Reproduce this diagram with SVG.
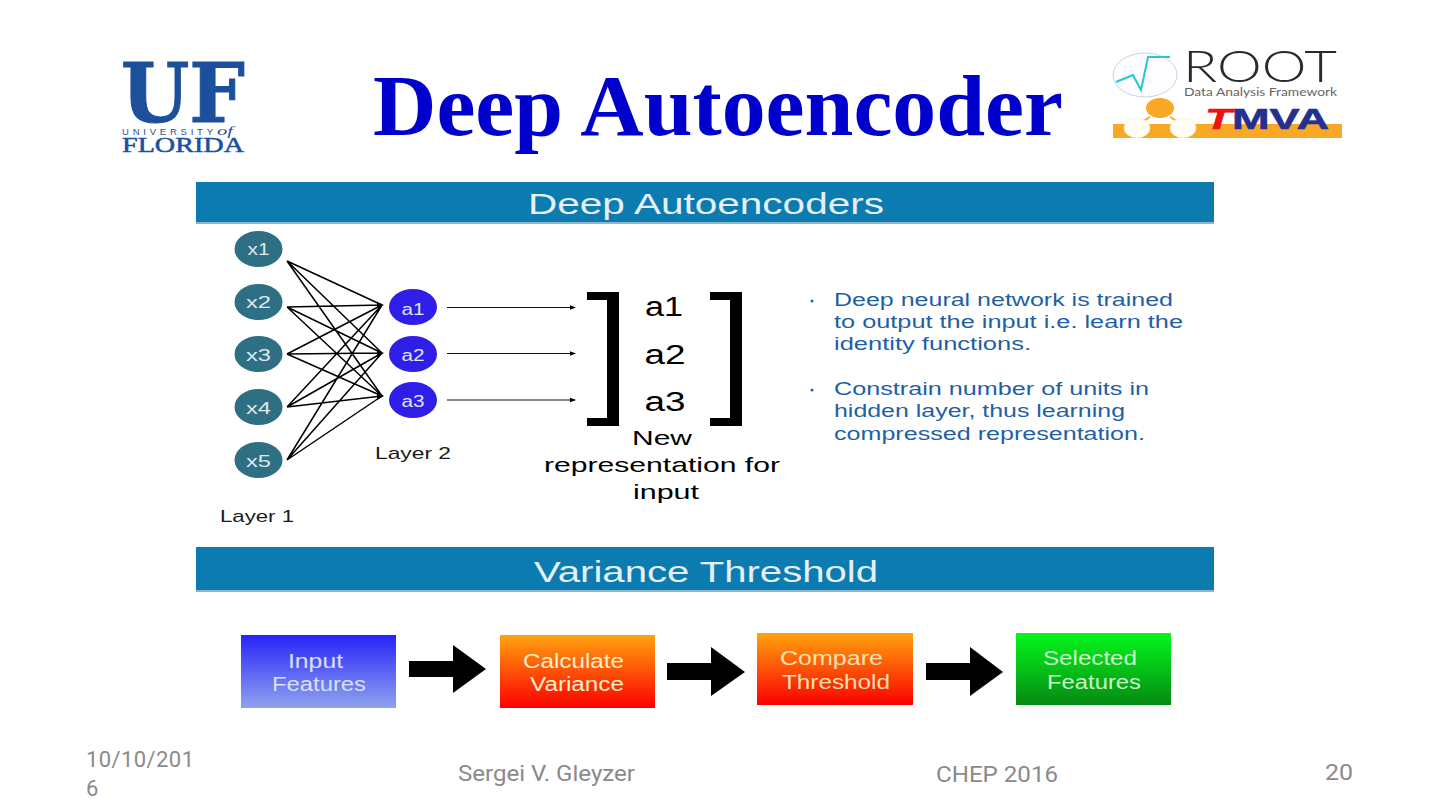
<svg xmlns="http://www.w3.org/2000/svg" width="1440" height="810" viewBox="0 0 1440 810">
<defs>
<linearGradient id="gBlue" x1="0" y1="0" x2="0" y2="1"><stop offset="0" stop-color="#2624f8"/><stop offset="1" stop-color="#8fa3ee"/></linearGradient>
<linearGradient id="gRed" x1="0" y1="0" x2="0" y2="1"><stop offset="0" stop-color="#ffa30f"/><stop offset="1" stop-color="#fb0000"/></linearGradient>
<linearGradient id="gGreen" x1="0" y1="0" x2="0" y2="1"><stop offset="0" stop-color="#05f71c"/><stop offset="1" stop-color="#058a13"/></linearGradient>
<marker id="tip" markerWidth="6" markerHeight="6" refX="5" refY="3" orient="auto" markerUnits="userSpaceOnUse"><path d="M0 0.8L6 3L0 5.2z" fill="#000"/></marker>
</defs>
<style>
text{font-family:"Liberation Sans",Arial,sans-serif}
.serif{font-family:"Liberation Serif",serif}
.banner{fill:#0b7bb0}
.bannerline{fill:#8fb6cf}
.bt{fill:#e4f0f5;font-size:29px}
.nx{fill:#2f6f84}
.na{fill:#2f1ee8}
.nt{fill:#dfe9ee;font-size:16px;text-anchor:middle}
.e{stroke:#000;stroke-width:1.5;fill:none}
.a{stroke:#111;stroke-width:1.2;fill:none;marker-end:url(#tip)}
.k{fill:#000}
.l{fill:#1a1a1a;font-size:17px}
.m{fill:#000;font-size:27px;text-anchor:middle}
.r{fill:#000;font-size:21px;text-anchor:middle}
.p{fill:#1e5fa8;font-size:17.5px}
.bx{font-size:20px}
.f{fill:#8a8a8a;font-family:Roboto,"Liberation Sans",sans-serif;font-size:22px}
</style>

<g id="title"><text class="serif" x="373" y="135" font-weight="700" font-size="87" fill="#0000cc" textLength="690" lengthAdjust="spacingAndGlyphs">Deep Autoencoder</text></g>

<g id="uf-logo" fill="#1c4f9c">
<text x="121" y="122" style="font-family:'DejaVu Serif',serif;font-size:82px;font-weight:700" stroke="#1c4f9c" stroke-width="1" textLength="124" lengthAdjust="spacingAndGlyphs">UF</text>
<text x="122" y="135" style="font-size:9.5px" textLength="91" lengthAdjust="spacing">UNIVERSITY</text>
<text x="217" y="135" class="serif" style="font-size:12px;font-style:italic" textLength="16" lengthAdjust="spacingAndGlyphs">of</text>
<text x="122" y="152" class="serif" style="font-size:21px" stroke="#1c4f9c" stroke-width=".5" textLength="122" lengthAdjust="spacingAndGlyphs">FLORIDA</text>
</g>

<g id="root-tmva-logo">
<ellipse cx="1145" cy="75" rx="32" ry="22" fill="#fdfdff" stroke="#ccd2de" stroke-width="1"/>
<polyline points="1116,82 1133,75 1141,90 1148,57 1170,57" fill="none" stroke="#22c8d8" stroke-width="2"/>
<text x="1183" y="82" style="font-family:Lato,'Liberation Sans',sans-serif;font-size:43px;font-weight:300" fill="#2a2a2a" textLength="154" lengthAdjust="spacingAndGlyphs">ROOT</text>
<text x="1184" y="96" style="font-family:Lato,'Liberation Sans',sans-serif;font-size:11px" fill="#666" textLength="153" lengthAdjust="spacingAndGlyphs">Data Analysis Framework</text>
<rect x="1113" y="124" width="229" height="14" fill="#f9a825"/>
<path d="M1150 117L1137 125M1170 117L1183 125" stroke="#f9a825" stroke-width="2"/>
<ellipse cx="1160" cy="108" rx="14" ry="10" fill="#f9a825"/>
<ellipse cx="1137" cy="128" rx="13" ry="10" fill="#fffdf6" stroke="#f3e6c8" stroke-width=".6"/>
<ellipse cx="1183" cy="128" rx="13" ry="10" fill="#fffdf6" stroke="#f3e6c8" stroke-width=".6"/>
<text x="1205" y="129" style="font-size:29px;font-weight:700;font-style:italic" fill="#ee1111" stroke="#ee1111" stroke-width=".6" textLength="27" lengthAdjust="spacingAndGlyphs">T</text>
<text x="1232" y="129" style="font-size:29px;font-weight:700" fill="#23308f" stroke="#23308f" stroke-width=".6" textLength="97" lengthAdjust="spacingAndGlyphs">MVA</text>
</g>

<g id="banner-deep">
<rect class="banner" x="196" y="182" width="1018" height="40"/>
<rect class="bannerline" x="196" y="222" width="1018" height="2"/>
<text class="bt" x="528" y="214" textLength="356" lengthAdjust="spacingAndGlyphs">Deep Autoencoders</text>
</g>
<g id="banner-variance">
<rect class="banner" x="196" y="547" width="1018" height="43"/>
<rect class="bannerline" x="196" y="590" width="1018" height="2"/>
<text class="bt" x="534" y="582" textLength="344" lengthAdjust="spacingAndGlyphs">Variance Threshold</text>
</g>

<g id="connectors">
<path class="e" d="M287 261L382 305M287 261L382 353M287 261L382 396M287 307L382 305M287 307L382 353M287 307L382 396M287 354L382 305M287 354L382 353M287 354L382 396M287 407L382 305M287 407L382 353M287 407L382 396M287 460L382 305M287 460L382 353M287 460L382 396"/>
<path class="k" d="M377 302L384 305L377 308zM377 350L384 353L377 357zM377 392L384 396L377 400z"/>
<path class="a" d="M447 307.5H575"/>
<path class="a" d="M447 353.5H575"/>
<path class="a" d="M447 400H575"/>
<path class="k" d="M409 661H453V645L486 669L453 693V677H409z"/>
<path class="k" d="M667 663H711V647L745 672L711 696V680H667z"/>
<path class="k" d="M926 663H970V647L1003 672L970 696V680H926z"/>
</g>

<g id="x1"><ellipse class="nx" cx="258.5" cy="249" rx="24" ry="18"/><text class="nt" x="258.5" y="255" textLength="22" lengthAdjust="spacingAndGlyphs">x1</text></g>
<g id="x2"><ellipse class="nx" cx="258.5" cy="302" rx="24" ry="18"/><text class="nt" x="258.5" y="308" textLength="25" lengthAdjust="spacingAndGlyphs">x2</text></g>
<g id="x3"><ellipse class="nx" cx="258.5" cy="354" rx="24" ry="18"/><text class="nt" x="258.5" y="361" textLength="25" lengthAdjust="spacingAndGlyphs">x3</text></g>
<g id="x4"><ellipse class="nx" cx="258.5" cy="407" rx="24" ry="18"/><text class="nt" x="258.5" y="414" textLength="25" lengthAdjust="spacingAndGlyphs">x4</text></g>
<g id="x5"><ellipse class="nx" cx="258.5" cy="460" rx="24" ry="18"/><text class="nt" x="258.5" y="467" textLength="25" lengthAdjust="spacingAndGlyphs">x5</text></g>
<g id="a1"><ellipse class="na" cx="413" cy="307" rx="24" ry="18"/><text class="nt" x="413" y="315" textLength="23" lengthAdjust="spacingAndGlyphs">a1</text></g>
<g id="a2"><ellipse class="na" cx="413" cy="354" rx="24" ry="18"/><text class="nt" x="413" y="361" textLength="23" lengthAdjust="spacingAndGlyphs">a2</text></g>
<g id="a3"><ellipse class="na" cx="413" cy="400" rx="24" ry="18"/><text class="nt" x="413" y="407" textLength="23" lengthAdjust="spacingAndGlyphs">a3</text></g>

<g id="layer-labels">
<text class="l" x="375" y="459" textLength="76" lengthAdjust="spacingAndGlyphs">Layer 2</text>
<text class="l" x="220" y="522" textLength="74" lengthAdjust="spacingAndGlyphs">Layer 1</text>
</g>

<g id="matrix">
<path class="k" d="M587 292H619V426H587V418H607V300H587z"/>
<path class="k" d="M710 292H742V426H710V418H730V300H710z"/>
<text class="m" x="664" y="316" textLength="38" lengthAdjust="spacingAndGlyphs">a1</text>
<text class="m" x="665" y="364" textLength="41" lengthAdjust="spacingAndGlyphs">a2</text>
<text class="m" x="665" y="411" textLength="41" lengthAdjust="spacingAndGlyphs">a3</text>
<text class="r" x="662" y="445" textLength="60" lengthAdjust="spacingAndGlyphs">New</text>
<text class="r" x="662" y="472" textLength="236" lengthAdjust="spacingAndGlyphs">representation for</text>
<text class="r" x="666" y="499" textLength="66" lengthAdjust="spacingAndGlyphs">input</text>
</g>

<g id="bullets">
<circle cx="812" cy="301" r="1.5" fill="#1e5fa8"/>
<circle cx="812" cy="390" r="1.5" fill="#1e5fa8"/>
<text class="p" x="834" y="306" textLength="339" lengthAdjust="spacingAndGlyphs">Deep neural network is trained</text>
<text class="p" x="834" y="328" textLength="349" lengthAdjust="spacingAndGlyphs">to output the input i.e. learn the</text>
<text class="p" x="834" y="350" textLength="197" lengthAdjust="spacingAndGlyphs">identity functions.</text>
<text class="p" x="834" y="395" textLength="315" lengthAdjust="spacingAndGlyphs">Constrain number of units in</text>
<text class="p" x="834" y="417" textLength="291" lengthAdjust="spacingAndGlyphs">hidden layer, thus learning</text>
<text class="p" x="834" y="440" textLength="311" lengthAdjust="spacingAndGlyphs">compressed representation.</text>
</g>

<g id="box-input" fill="#d9e0fb"><rect x="241" y="635" width="155" height="73" fill="url(#gBlue)"/><text class="bx" x="288" y="668" textLength="55" lengthAdjust="spacingAndGlyphs">Input</text><text class="bx" x="272" y="691" textLength="94" lengthAdjust="spacingAndGlyphs">Features</text></g>
<g id="box-calculate" fill="#fdeecb"><rect x="500" y="635" width="155" height="73" fill="url(#gRed)"/><text class="bx" x="523" y="668" textLength="101" lengthAdjust="spacingAndGlyphs">Calculate</text><text class="bx" x="530" y="691" textLength="94" lengthAdjust="spacingAndGlyphs">Variance</text></g>
<g id="box-compare" fill="#fde0b0"><rect x="757" y="633" width="156" height="72" fill="url(#gRed)"/><text class="bx" x="780" y="665" textLength="103" lengthAdjust="spacingAndGlyphs">Compare</text><text class="bx" x="782" y="689" textLength="108" lengthAdjust="spacingAndGlyphs">Threshold</text></g>
<g id="box-selected" fill="#c8f5c8"><rect x="1016" y="633" width="155" height="72" fill="url(#gGreen)"/><text class="bx" x="1043" y="665" textLength="94" lengthAdjust="spacingAndGlyphs">Selected</text><text class="bx" x="1047" y="689" textLength="94" lengthAdjust="spacingAndGlyphs">Features</text></g>

<g id="footer">
<text class="f" x="86" y="767" textLength="108">10/10/201</text>
<text class="f" x="86" y="796">6</text>
<text class="f" x="458" y="781" textLength="177" lengthAdjust="spacingAndGlyphs">Sergei V. Gleyzer</text>
<text class="f" x="936" y="782" textLength="122" lengthAdjust="spacingAndGlyphs">CHEP 2016</text>
<text class="f" x="1325" y="780" textLength="28" lengthAdjust="spacingAndGlyphs">20</text>
</g>
</svg>
